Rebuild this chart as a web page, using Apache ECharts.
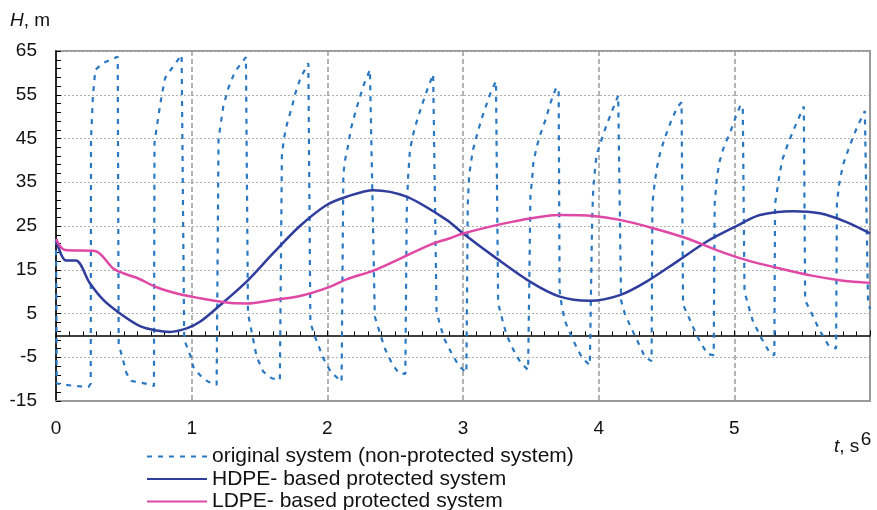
<!DOCTYPE html>
<html>
<head>
<meta charset="utf-8">
<script src="https://cdn.jsdelivr.net/npm/echarts@6/dist/echarts.min.js"></script>
<style>
  html, body { margin: 0; padding: 0; background: #fff; }
  #chart { width: 877px; height: 510px; }
</style>
</head>
<body>
<div id="chart"></div>
<script>
// original system (non-protected)
const timeOriginal = [
  0, 0.005, 0.12, 0.24, 0.256, 0.258, 0.272, 0.29, 0.35, 0.455,
  0.462, 0.5, 0.52, 0.555, 0.62, 0.705, 0.722,
  0.726, 0.754, 0.778, 0.804, 0.853, 0.926, 0.936,
  0.945, 0.995, 1.012, 1.061, 1.122, 1.184, 1.195,
  1.198, 1.208, 1.233, 1.27, 1.319, 1.4, 1.405,
  1.415, 1.454, 1.479, 1.528, 1.59, 1.65, 1.662,
  1.665, 1.68, 1.705, 1.737, 1.766, 1.803, 1.86, 1.868,
  1.875, 1.905, 1.933, 1.97, 2.024, 2.105, 2.115,
  2.118, 2.13, 2.154, 2.172, 2.203, 2.235, 2.27, 2.314, 2.326,
  2.35, 2.388, 2.424, 2.474, 2.528, 2.575,
  2.585, 2.595, 2.609, 2.633, 2.662, 2.699, 2.736, 2.78, 2.788,
  2.805, 2.83, 2.867, 2.916, 2.97, 3.025,
  3.035, 3.045, 3.071, 3.101, 3.132, 3.169, 3.206, 3.243, 3.25,
  3.259, 3.291, 3.321, 3.37, 3.424, 3.48, 3.49,
  3.497, 3.51, 3.518, 3.542, 3.574, 3.612, 3.643, 3.681, 3.705,
  3.712, 3.727, 3.751, 3.783, 3.832, 3.881, 3.935, 3.946,
  3.952, 3.96, 3.972, 3.984, 4.021, 4.058, 4.1, 4.144, 4.152,
  4.165, 4.193, 4.243, 4.292, 4.34, 4.39,
  4.396, 4.413, 4.431, 4.456, 4.493, 4.532, 4.578, 4.611,
  4.622, 4.652, 4.697, 4.746, 4.803, 4.848,
  4.855, 4.872, 4.893, 4.925, 4.972, 5.011, 5.041, 5.062,
  5.075, 5.097, 5.134, 5.195, 5.267, 5.295,
  5.3, 5.327, 5.352, 5.401, 5.458, 5.512,
  5.522, 5.561, 5.624, 5.696, 5.75,
  5.756, 5.772, 5.802, 5.851, 5.905, 5.962, 5.972,
  5.985, 6
];
const headOriginal = [
  22, -11, -11.5, -11.8, -11, 44.7, 54.6, 60.7, 62.3, 63.7,
  -2, -6.3, -8.7, -10.4, -10.8, -11.3, -11.6,
  44, 50, 54.6, 58.8, 61, 64.1, 64.3,
  -1, -5, -7.2, -9.1, -10.6, -11.3, -11.4,
  44.7, 47, 52.3, 56.5, 60.3, 63.6, 63.6,
  5, -1, -4.9, -8.3, -9.8, -10.2, -10.3,
  41, 45, 48.6, 52, 55.5, 58.9, 62.2, 62.5,
  3, 0, -2.2, -5.2, -8.3, -10.6, -10.7,
  36.7, 40, 43.5, 47, 50.6, 54, 57.4, 60.7, 61,
  4.3, 0.5, -3, -6.3, -8.7, -8.8,
  27.9, 36, 42.4, 46, 49.2, 52.8, 56.1, 59.7, 59.9,
  5.5, 2.4, -1.1, -4.1, -7, -8.5,
  30, 36.5, 42.1, 45.6, 49, 52.4, 55.7, 58.1, 58.3,
  7.3, 3.5, 0.1, -3.2, -6.2, -7.9, -8,
  32, 35.9, 39.3, 43, 46.3, 49.6, 53, 56.2, 56.6,
  10.4, 6.9, 3.3, 0.9, -2.4, -5.3, -6.8, -6.9,
  26.8, 33.5, 37.6, 41.2, 44.7, 48.1, 51.4, 54.8, 55,
  8, 4.9, 1.5, -1.7, -4.9, -5.9,
  30, 34.9, 38.6, 42.1, 45.6, 48.8, 52.1, 53.3,
  7, 5, 1.8, -1.4, -4.3, -4.5,
  30, 36.3, 39.9, 43.3, 46.6, 50, 52.3, 52.6,
  10, 7.5, 3.5, -0.4, -4.3, -4.5,
  30, 35.5, 40, 44.3, 48.5, 52.3,
  8, 5.6, 1.4, -2.4, -3,
  30, 34.5, 39.1, 43.4, 47.6, 51.3, 51.5,
  8, 6
];

// HDPE- based protected system
const timeHDPE = [0, 0.074, 0.147, 0.25, 0.349, 0.472, 0.619, 0.742, 0.84, 0.963, 1.061, 1.209, 1.405,
  1.601, 1.798, 1.995, 2.142, 2.338, 2.584, 2.879, 3.001, 3.247, 3.493, 3.714, 3.935, 4.156, 4.353,
  4.574, 4.795, 5.004, 5.188, 5.433, 5.63, 5.827, 6];
const headHDPE = [22, 17.1, 17.1, 11.9, 8.1, 5.0, 2.1, 1.1, 0.8, 1.6, 3.1, 6.9, 12.3,
  18.8, 25.0, 29.8, 31.7, 33.2, 31.7, 26.4, 23.3, 17.6, 12.3, 8.85, 7.9, 9.2, 12.3,
  16.8, 21.4, 24.8, 27.5, 28.4, 27.9, 25.9, 23.3];

// LDPE- based protected system
const timeLDPE = [0, 0.066, 0.287, 0.422, 0.496, 0.607, 0.742, 0.914, 1.061, 1.258, 1.405, 1.601,
  1.798, 2.019, 2.142, 2.363, 2.756, 2.903, 3.0, 3.37, 3.714, 3.96, 4.156, 4.402, 4.648, 4.869,
  5.09, 5.335, 5.581, 5.802, 6];
const headLDPE = [22, 19.5, 19.3, 15.3, 14.2, 13.0, 11.0, 9.4, 8.5, 7.5, 7.3, 8.1,
  9.0, 11.1, 12.8, 15.1, 20.7, 22.2, 23.3, 26.0, 27.5, 27.3, 26.4, 24.5, 22.2, 19.5,
  17.2, 15.3, 13.6, 12.5, 12.0];

const seriesNames = [
  'original system (non-protected system)',
  'HDPE- based protected system',
  'LDPE- based protected system'
];

function pairs(xs, ys) {
  return xs.map((x, i) => [x, ys[i]]);
}

const font = 'Liberation Sans, Arial, sans-serif';
const myChart = echarts.init(document.getElementById('chart'), null, { renderer: 'canvas' });

const option = {
  animation: false,
  textStyle: { fontFamily: font },
  grid: {
    left: 56, right: 7, top: 51, bottom: 109,
    show: true, borderColor: '#9a9a9a', borderWidth: 2
  },
  xAxis: [
    {
      type: 'value', min: 0, max: 6, interval: 1, position: 'bottom',
      axisLine: { onZero: false, show: true, lineStyle: { color: '#9a9a9a', width: 2 } },
      axisTick: { show: false },
      axisLabel: {
        margin: 18, fontSize: 19, color: '#111', fontFamily: font,
        formatter: v => v === 6 ? '{last|6}' : String(v),
        rich: { last: { fontSize: 19, color: '#111', fontFamily: font, padding: [11, 8, 0, 0] } }
      },
      splitLine: { show: true, lineStyle: { color: '#9a9a9a', width: 1.5, type: [5, 3] } }
    },
    {
      // black line through H = 0 with its ticks
      type: 'value', min: 0, max: 6, interval: 1, position: 'top',
      axisLine: { onZero: true, lineStyle: { color: '#000', width: 1.5 } },
      axisTick: { show: true, length: 5, lineStyle: { color: '#000', width: 1 } },
      minorTick: { show: true, splitNumber: 10, length: 4, lineStyle: { color: '#000', width: 1 } },
      axisLabel: { show: false },
      splitLine: { show: false }
    }
  ],
  yAxis: {
    type: 'value', min: -15, max: 65, interval: 10,
    axisLine: { show: true, onZero: false, lineStyle: { color: '#000', width: 1.5 } },
    axisTick: { show: true, inside: true, length: 5, lineStyle: { color: '#000' } },
    minorTick: { show: true, splitNumber: 5, length: 5, lineStyle: { color: '#000' } },
    axisLabel: { margin: 19, fontSize: 19, color: '#111', fontFamily: font },
    splitLine: { show: true, lineStyle: { color: '#b0b0b0', width: 1, type: [2, 2] } }
  },
  legend: {
    orient: 'vertical', left: 146, top: 446, height: 90, padding: 0,
    itemWidth: 60, itemHeight: 12, itemGap: 1.5,
    itemStyle: { opacity: 0 },
    textStyle: { fontSize: 21, lineHeight: 21, color: '#111', fontFamily: font },
    data: seriesNames
  },
  graphic: [
    {
      type: 'text', left: 10, top: 11,
      style: {
        text: '{i|H}, m', fontSize: 19, fill: '#111', fontFamily: font,
        rich: { i: { fontStyle: 'italic', fontSize: 19, fontFamily: font, fill: '#111' } }
      }
    },
    {
      type: 'text', left: 834, top: 437,
      style: {
        text: '{i|t}, s', fontSize: 19, fill: '#111', fontFamily: font,
        rich: { i: { fontStyle: 'italic', fontSize: 19, fontFamily: font, fill: '#111' } }
      }
    }
  ],
  series: [
    {
      name: seriesNames[0], type: 'line', symbol: 'none', xAxisIndex: 0,
      lineStyle: { color: '#2a78c2', width: 2.2, type: [5, 6] },
      itemStyle: { color: '#2a78c2' },
      data: pairs(timeOriginal, headOriginal), z: 3
    },
    {
      name: seriesNames[1], type: 'line', symbol: 'none', xAxisIndex: 0, smooth: 0.3,
      lineStyle: { color: '#2f3d9c', width: 2.5 },
      itemStyle: { color: '#2f3d9c' },
      data: pairs(timeHDPE, headHDPE), z: 4
    },
    {
      name: seriesNames[2], type: 'line', symbol: 'none', xAxisIndex: 0, smooth: 0.3,
      lineStyle: { color: '#e048a6', width: 2.5 },
      itemStyle: { color: '#e048a6' },
      data: pairs(timeLDPE, headLDPE), z: 4
    }
  ]
};

option && myChart.setOption(option);
</script>
</body>
</html>
